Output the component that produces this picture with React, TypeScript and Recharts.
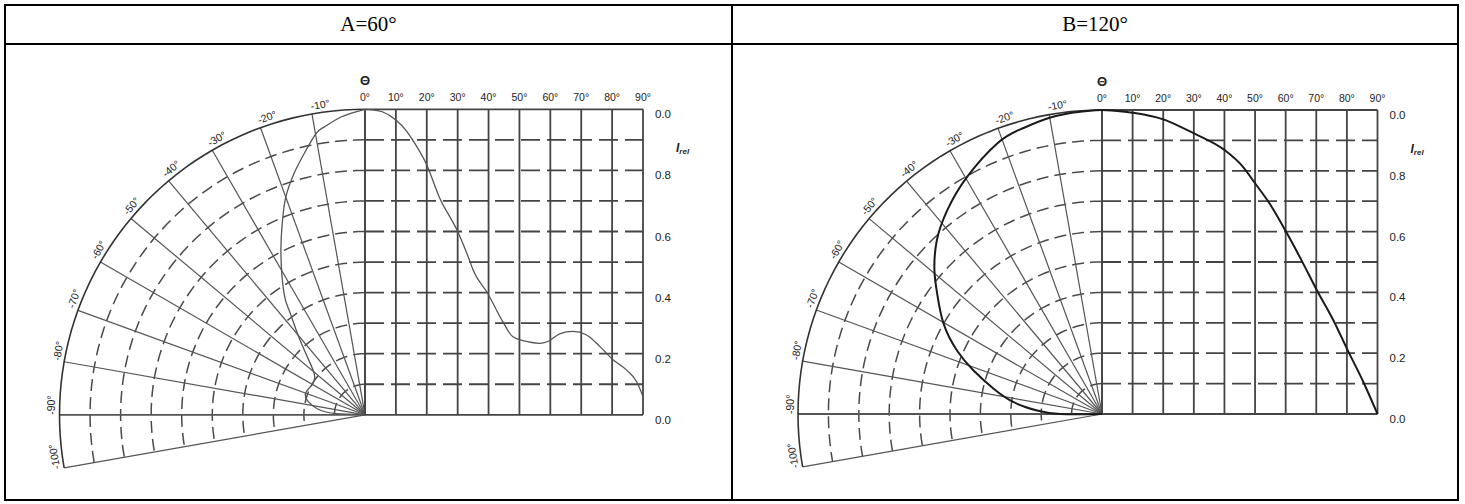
import React from 'react';
import { ComposedChart, Line, Scatter, XAxis, YAxis } from 'recharts';

// grid ticks
const spokeAngles = [0, -10, -20, -30, -40, -50, -60, -70, -80, -90, -100];
const arcLabelAngles = [-10, -20, -30, -40, -50, -60, -70, -80, -90, -100];
const degreeTicks = [0, 10, 20, 30, 40, 50, 60, 70, 80, 90];
const ringRadii = [0.1, 0.2, 0.3, 0.4, 0.5, 0.6, 0.7, 0.8, 0.9];
const intensityTicks = [1.0, 0.8, 0.6, 0.4, 0.2, 0.0];
const intensityTickLabels = ['0.0', '0.8', '0.6', '0.4', '0.2', '0.0'];

// A=60°, cartesian half (angle in degrees, relative intensity)
const aCartDeg = [0, 2.5, 5.6, 10, 13.2, 15.4, 20, 24, 30, 33.8, 35, 39.7, 44.6, 47.8, 52.2, 56.5, 59.2, 63, 67.3, 71.6, 76, 80.3, 84.6, 87.9, 90];
const aCartRel = [1.0, 0.998, 0.992, 0.965, 0.932, 0.9, 0.818, 0.714, 0.6, 0.507, 0.474, 0.398, 0.305, 0.256, 0.24, 0.234, 0.24, 0.265, 0.273, 0.262, 0.224, 0.18, 0.147, 0.109, 0.06];
// A=60°, polar half
const aPolarDeg = [0, -4.6, -8.1, -9.9, -13.1, -16.4, -20, -23, -27.6, -33.8, -36, -39.8, -45, -51.2, -59.6, -69.3, -76.3, -83, -87.5, -90];
const aPolarRel = [1.0, 0.978, 0.951, 0.934, 0.878, 0.823, 0.758, 0.691, 0.594, 0.476, 0.422, 0.345, 0.266, 0.213, 0.199, 0.207, 0.193, 0.156, 0.1, 0];

// B=120°, cartesian half
const bCartDeg = [0, 10, 20, 25, 30.1, 40.1, 46, 50, 54.7, 60.1, 65.1, 70.1, 75.5, 80.2, 85.3, 90];
const bCartRel = [1.0, 0.991, 0.969, 0.948, 0.923, 0.868, 0.814, 0.759, 0.693, 0.6, 0.507, 0.409, 0.31, 0.211, 0.107, 0.0];
// B=120°, polar half
const bPolarDeg = [0, -4.1, -9.9, -16, -21.1, -29.7, -37.3, -43.6, -49.4, -53.9, -60.3, -66.4, -71.3, -76.9, -82.4, -86.9, -90, -90];
const bPolarRel = [1.0, 0.997, 0.99, 0.974, 0.955, 0.897, 0.841, 0.788, 0.726, 0.671, 0.6, 0.52, 0.446, 0.366, 0.293, 0.214, 0.137, 0];

const toRad = (d: number) => (d * Math.PI) / 180;
const polar = (deg: number, r: number) => ({ x: r * Math.sin(toRad(deg)), y: r * Math.cos(toRad(deg)) });
const arcSteps = Array.from({ length: 51 }, (_, i) => -2 * i);

const GRID = '#444';
const LABEL_FONT = '"Liberation Sans", Arial, sans-serif';

type DiagramProps = {
  width: number;
  height: number;
  cx: number;
  cy: number;
  R: number;
  w90: number;
  cartDeg: number[];
  cartRel: number[];
  polarDeg: number[];
  polarRel: number[];
  curveColor: string;
  curveWidth: number;
};

function Diagram(p: DiagramProps) {
  const xDomain = [-p.cx / p.R, (p.width - p.cx) / p.R];
  const degDomain = [(-p.cx / p.w90) * 90, ((p.width - p.cx) / p.w90) * 90];
  const yDomain = [-(p.height - p.cy) / p.R, p.cy / p.R];

  const cartData = p.cartDeg.map((deg, i) => ({ deg, y: p.cartRel[i] }));
  const polarData = p.polarDeg.map((deg, i) => polar(deg, p.polarRel[i]));

  const common = { dot: false, activeDot: false, isAnimationActive: false, type: 'linear' as const };

  return (
    <ComposedChart width={p.width} height={p.height} margin={{ top: 0, right: 0, bottom: 0, left: 0 }}>
      <XAxis xAxisId="u" dataKey="x" type="number" domain={xDomain} allowDataOverflow hide />
      <XAxis xAxisId="d" dataKey="deg" type="number" domain={degDomain} allowDataOverflow hide />
      <YAxis yAxisId="u" dataKey="y" type="number" domain={yDomain} allowDataOverflow hide />

      {/* polar half: dashed rings, spokes, outer arc */}
      {ringRadii.map((r) => (
        <Line key={`ring${r}`} {...common} xAxisId="u" yAxisId="u" dataKey="y" data={arcSteps.map((a) => polar(a, r))}
          stroke="#4a4a4a" strokeWidth={1.5} strokeDasharray="12 6" />
      ))}
      {spokeAngles.map((a) => (
        <Line key={`spoke${a}`} {...common} xAxisId="u" yAxisId="u" dataKey="y" data={[{ x: 0, y: 0 }, polar(a, 1)]}
          stroke="#555" strokeWidth={a === 0 || a === -90 ? 1.8 : 1.2} />
      ))}
      <Line {...common} xAxisId="u" yAxisId="u" dataKey="y" data={arcSteps.map((a) => polar(a, 1))} stroke="#333" strokeWidth={1.6} />

      {/* cartesian half */}
      {ringRadii.map((r) => (
        <Line key={`h${r}`} {...common} xAxisId="d" yAxisId="u" dataKey="y" data={[{ deg: 0, y: r }, { deg: 90, y: r }]}
          stroke={GRID} strokeWidth={1.8} strokeDasharray="19 7" />
      ))}
      {degreeTicks.map((d) => (
        <Line key={`v${d}`} {...common} xAxisId="d" yAxisId="u" dataKey="y" data={[{ deg: d, y: 0 }, { deg: d, y: 1 }]}
          stroke={GRID} strokeWidth={1.8} />
      ))}
      <Line {...common} xAxisId="d" yAxisId="u" dataKey="y" data={[{ deg: 0, y: 1 }, { deg: 90, y: 1 }]} stroke={GRID} strokeWidth={1.8} />
      <Line {...common} xAxisId="d" yAxisId="u" dataKey="y" data={[{ deg: 0, y: 0 }, { deg: 90, y: 0 }]} stroke={GRID} strokeWidth={1.8} />

      {/* curves */}
      <Line {...common} type="natural" xAxisId="u" yAxisId="u" dataKey="y" data={polarData} stroke={p.curveColor} strokeWidth={p.curveWidth} />
      <Line {...common} type="monotone" xAxisId="d" yAxisId="u" dataKey="y" data={cartData} stroke={p.curveColor} strokeWidth={p.curveWidth} />

      {/* labels */}
      <Scatter xAxisId="u" yAxisId="u" isAnimationActive={false}
        data={arcLabelAngles.map((a) => ({ ...polar(a, 1 + 4 / p.R), a }))}
        shape={(s: any) => (
          <text x={s.cx} y={s.cy} transform={`rotate(${s.payload.a} ${s.cx} ${s.cy})`} fontSize={10.5}
            fontFamily={LABEL_FONT} fill="#222" textAnchor="start">{`${s.payload.a}°`}</text>
        )} />
      <Scatter xAxisId="d" yAxisId="u" isAnimationActive={false}
        data={degreeTicks.map((d) => ({ deg: d, y: 1 }))}
        shape={(s: any) => (
          <text x={s.cx} y={s.cy - 8} fontSize={10.5} fontFamily={LABEL_FONT} fill="#222" textAnchor="middle">{`${s.payload.deg}°`}</text>
        )} />
      <Scatter xAxisId="d" yAxisId="u" isAnimationActive={false}
        data={[{ deg: 0, y: 1 }]}
        shape={(s: any) => (
          <text x={s.cx} y={s.cy - 24} fontSize={13} fontWeight="bold" fontFamily={LABEL_FONT} fill="#222" textAnchor="middle">Θ</text>
        )} />
      <Scatter xAxisId="d" yAxisId="u" isAnimationActive={false}
        data={intensityTicks.map((v, i) => ({ deg: 90, y: v, label: intensityTickLabels[i] }))}
        shape={(s: any) => (
          <text x={s.cx + 20} y={s.cy + 9} fontSize={11.5} fontFamily={LABEL_FONT} fill="#222" textAnchor="middle">{s.payload.label}</text>
        )} />
      <Scatter xAxisId="d" yAxisId="u" isAnimationActive={false}
        data={[{ deg: 90, y: 0.86 }]}
        shape={(s: any) => (
          <text x={s.cx + 33} y={s.cy} fontFamily={LABEL_FONT} fill="#222" fontStyle="italic" fontWeight="bold">
            <tspan fontSize={12}>I</tspan>
            <tspan fontSize={8} dy={2}>rel</tspan>
          </text>
        )} />
    </ComposedChart>
  );
}

const bar = (left: number, top: number, width: number, height: number) => (
  <div style={{ position: 'absolute', left, top, width, height, background: '#000' }} />
);

export default function App() {
  const header: React.CSSProperties = {
    position: 'absolute', top: 6, height: 37, lineHeight: '37px', textAlign: 'center',
    fontFamily: '"Liberation Serif", "Times New Roman", serif', fontSize: 21, color: '#000',
  };
  return (
    <div style={{ position: 'absolute', left: 0, top: 0, width: 1465, height: 504, background: '#fff', overflow: 'hidden' }}>
      <div style={{ ...header, left: 6, width: 725 }}>A=60°</div>
      <div style={{ ...header, left: 733, width: 724 }}>B=120°</div>

      <div style={{ position: 'absolute', left: 6, top: 46 }}>
        <Diagram width={725} height={452} cx={359} cy={368.8} R={305.5} w90={278}
          cartDeg={aCartDeg} cartRel={aCartRel} polarDeg={aPolarDeg} polarRel={aPolarRel}
          curveColor="#555" curveWidth={1.3} />
      </div>
      <div style={{ position: 'absolute', left: 733, top: 46 }}>
        <Diagram width={724} height={452} cx={369} cy={368} R={304} w90={275.5}
          cartDeg={bCartDeg} cartRel={bCartRel} polarDeg={bPolarDeg} polarRel={bPolarRel}
          curveColor="#1a1a1a" curveWidth={2} />
      </div>

      {bar(4, 4, 1455, 2)}
      {bar(4, 43, 1455, 2)}
      {bar(4, 499, 1455, 2)}
      {bar(4, 4, 2, 497)}
      {bar(731, 4, 2, 497)}
      {bar(1457, 4, 2, 497)}
    </div>
  );
}
